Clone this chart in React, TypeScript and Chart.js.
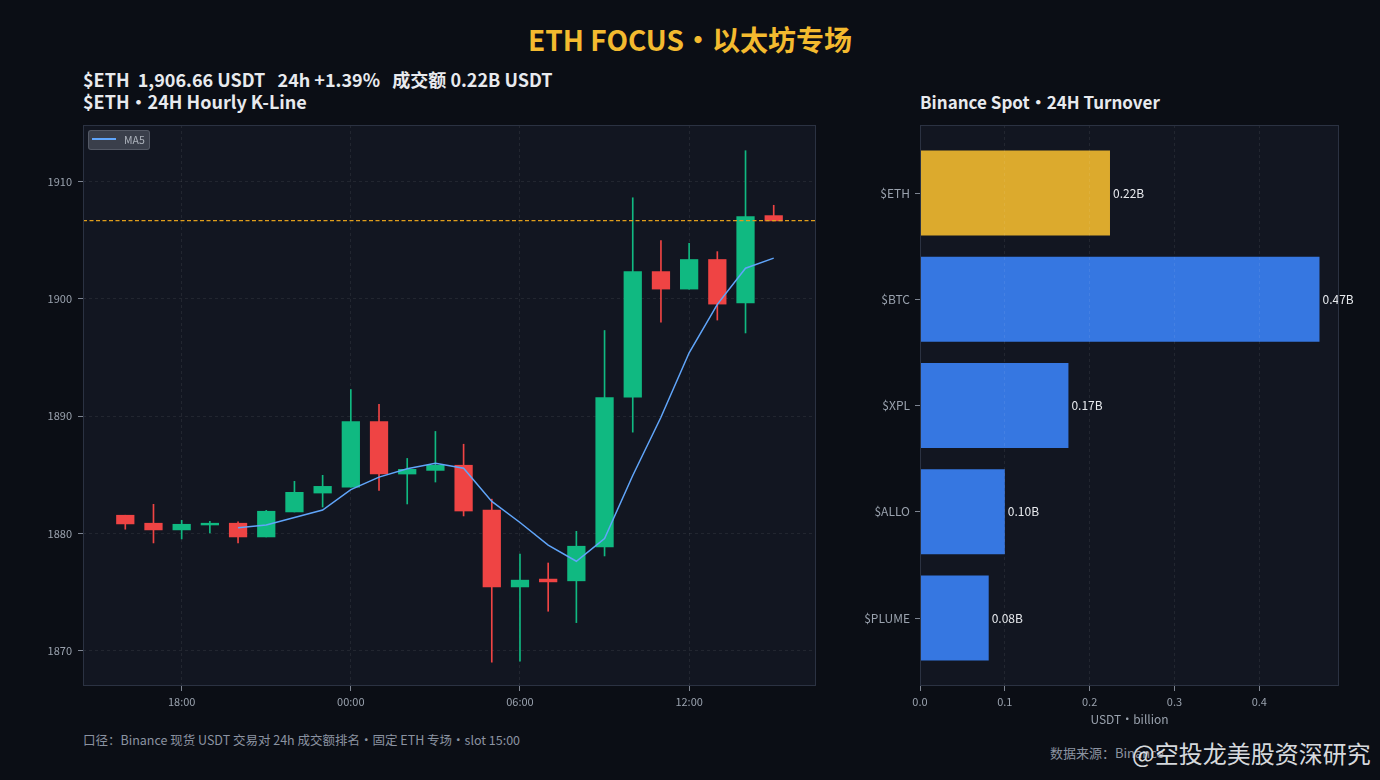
import React, { useEffect, useRef } from "react";
import { Chart, registerables } from "chart.js";

Chart.register(...registerables);

// ---------------- data ----------------
const TIMES = [
  "16:00", "17:00", "18:00", "19:00", "20:00", "21:00", "22:00", "23:00",
  "00:00", "01:00", "02:00", "03:00", "04:00", "05:00", "06:00", "07:00",
  "08:00", "09:00", "10:00", "11:00", "12:00", "13:00", "14:00", "15:00",
];
const OPEN = [
  1881.55, 1880.87, 1880.30, 1880.72, 1880.87, 1879.70, 1881.83, 1883.44,
  1883.95, 1889.54, 1885.06, 1885.37, 1885.81, 1881.98, 1875.44, 1876.11,
  1875.96, 1878.84, 1891.61, 1902.31, 1900.82, 1903.34, 1899.64, 1907.08,
];
const HIGH = [
  1881.55, 1882.48, 1881.12, 1881.04, 1880.98, 1881.97, 1884.44, 1884.95,
  1892.26, 1890.99, 1886.39, 1888.69, 1887.60, 1882.92, 1878.24, 1877.48,
  1880.18, 1897.29, 1908.60, 1904.95, 1904.71, 1904.01, 1912.61, 1907.96,
];
const LOW = [
  1880.36, 1879.19, 1879.53, 1880.04, 1879.19, 1879.70, 1881.83, 1882.25,
  1883.95, 1883.67, 1882.51, 1884.38, 1881.49, 1869.03, 1869.12, 1873.37,
  1872.40, 1878.08, 1888.63, 1897.99, 1900.82, 1898.18, 1897.08, 1906.63,
];
const CLOSE = [
  1880.81, 1880.30, 1880.78, 1880.87, 1879.70, 1881.89, 1883.50, 1884.01,
  1889.54, 1885.06, 1885.46, 1885.80, 1881.91, 1875.44, 1876.02, 1875.87,
  1878.91, 1891.58, 1902.31, 1900.82, 1903.34, 1899.54, 1906.99, 1906.63,
];
const MA5 = [
  null, null, null, null, 1880.49, 1880.71, 1881.35, 1881.99,
  1883.73, 1884.80, 1885.51, 1885.97, 1885.55, 1882.73, 1880.93, 1879.01,
  1877.63, 1879.56, 1884.94, 1889.90, 1895.39, 1899.52, 1902.60, 1903.46,
];
const LAST_PRICE = 1906.66;
const X_TICK_INDEX = [2, 8, 14, 20];
const Y_TICKS = [1870, 1880, 1890, 1900, 1910];
const X_RANGE = [-1.5, 24.5];
const Y_RANGE = [1867.0, 1914.8];

const COINS = ["$ETH", "$BTC", "$XPL", "$ALLO", "$PLUME"];
const TURNOVER = [0.224, 0.471, 0.175, 0.1, 0.081];
const TURNOVER_LABELS = ["0.22B", "0.47B", "0.17B", "0.10B", "0.08B"];
const TURNOVER_TICKS = [0, 0.1, 0.2, 0.3, 0.4];
const TURNOVER_RANGE = [0, 0.494];
const COIN_RANGE = [-0.64, 4.64];

// ---------------- style ----------------
const FONT = "'Noto Sans CJK SC', 'Noto Sans', sans-serif";
const PAGE_BG = "#0b0e15";
const PLOT_BG = "#121621";
const FRAME = "#2b3242";
const TICK_TEXT = "#9aa2ae";
const TICK_MARK = "#7d8491";
const GRID = "rgba(255,255,255,0.07)";
const UP = "#10b981";
const DOWN = "#ef4444";
const MA_COLOR = "#60a5fa";
const PRICE_LINE = "#e09e1c";
const GOLD = "rgba(243,186,47,0.9)";
const BLUE = "rgba(59,130,246,0.9)";
const TEXT = "#e8eaee";

const plotFrame = {
  id: "plotFrame",
  beforeDraw(chart: any) {
    const { ctx, chartArea: a } = chart;
    ctx.save();
    ctx.fillStyle = PLOT_BG;
    ctx.fillRect(a.left, a.top, a.right - a.left, a.bottom - a.top);
    ctx.restore();
  },
  afterDraw(chart: any) {
    const { ctx, chartArea: a } = chart;
    ctx.save();
    ctx.strokeStyle = FRAME;
    ctx.lineWidth = 1;
    ctx.strokeRect(a.left + 0.5, a.top + 0.5, a.right - a.left - 1, a.bottom - a.top - 1);
    ctx.restore();
  },
};

const barLabels = {
  id: "barLabels",
  afterDatasetsDraw(chart: any) {
    const { ctx } = chart;
    const meta = chart.getDatasetMeta(0);
    ctx.save();
    ctx.fillStyle = TEXT;
    ctx.font = `12px ${FONT}`;
    ctx.textAlign = "left";
    ctx.textBaseline = "middle";
    meta.data.forEach((bar: any, i: number) => {
      ctx.fillText(TURNOVER_LABELS[i], bar.x + 3, bar.y);
    });
    ctx.restore();
  },
};

const fixH = (h: number) => (s: any) => {
  s.height = h;
  s.paddingLeft = 0;
  s.paddingRight = 0;
};
const fixW = (w: number) => (s: any) => {
  s.width = w;
  s.paddingTop = 0;
  s.paddingBottom = 0;
};

function KLine() {
  const ref = useRef<HTMLCanvasElement>(null);
  useEffect(() => {
    if (!ref.current) return;
    const colors = OPEN.map((o, i) => (CLOSE[i] >= o ? UP : DOWN));
    const chart = new Chart(ref.current, {
      type: "bar",
      data: {
        datasets: [
          {
            type: "bar",
            label: "wick",
            data: TIMES.map((_, i) => ({ x: i, y: [LOW[i], HIGH[i]] })) as any,
            backgroundColor: colors,
            barThickness: 1,
            grouped: false,
            order: 3,
          } as any,
          {
            type: "bar",
            label: "body",
            data: TIMES.map((_, i) => ({ x: i, y: [OPEN[i], CLOSE[i]] })) as any,
            backgroundColor: colors,
            barThickness: 17.6,
            minBarLength: 1.5,
            grouped: false,
            order: 2,
          } as any,
          {
            type: "line",
            label: "MA5",
            data: TIMES.map((_, i) => ({ x: i, y: MA5[i] })) as any,
            borderColor: MA_COLOR,
            borderWidth: 1.5,
            pointRadius: 0,
            spanGaps: false,
            order: 1,
          } as any,
          {
            type: "line",
            label: "last",
            data: X_RANGE.map((x) => ({ x, y: LAST_PRICE })) as any,
            borderColor: PRICE_LINE,
            backgroundColor: PRICE_LINE,
            borderWidth: 1.2,
            borderDash: [4, 2.5],
            pointRadius: 0,
            fill: false,
            order: 0,
          } as any,
        ],
      },
      options: {
        animation: false,
        responsive: true,
        maintainAspectRatio: false,
        layout: { padding: { top: 10, right: 14, left: 0, bottom: 0 } },
        plugins: { legend: { display: false }, tooltip: { enabled: false } },
        scales: {
          x: {
            type: "linear",
            offset: false,
            min: X_RANGE[0],
            max: X_RANGE[1],
            afterBuildTicks: (s: any) => {
              s.ticks = X_TICK_INDEX.map((v) => ({ value: v }));
            },
            afterFit: fixH(39),
            ticks: {
              callback: (v: any) => TIMES[v as number],
              color: TICK_TEXT,
              font: { size: 11, family: FONT },
              padding: 4,
              maxRotation: 0,
              autoSkip: false,
            },
            grid: { offset: false, color: GRID, tickColor: TICK_MARK, tickLength: 5, tickBorderDash: [] },
            border: { display: false, dash: [3, 3] },
          } as any,
          y: {
            type: "linear",
            min: Y_RANGE[0],
            max: Y_RANGE[1],
            afterBuildTicks: (s: any) => {
              s.ticks = Y_TICKS.map((v) => ({ value: v }));
            },
            afterFit: fixW(63),
            ticks: {
              callback: (v: any) => String(v),
              color: TICK_TEXT,
              font: { size: 11, family: FONT },
              padding: 6,
            },
            grid: { color: GRID, tickColor: TICK_MARK, tickLength: 5, tickBorderDash: [] },
            border: { display: false, dash: [3, 3] },
          } as any,
        },
      },
      plugins: [plotFrame],
    });
    return () => chart.destroy();
  }, []);
  return <canvas ref={ref} />;
}

function Turnover() {
  const ref = useRef<HTMLCanvasElement>(null);
  useEffect(() => {
    if (!ref.current) return;
    const chart = new Chart(ref.current, {
      type: "bar",
      data: {
        datasets: [
          {
            label: "turnover",
            data: TURNOVER.map((v, i) => ({ x: v, y: i })) as any,
            backgroundColor: COINS.map((_, i) => (i === 0 ? GOLD : BLUE)),
            categoryPercentage: 1,
            barPercentage: 0.8,
          } as any,
        ],
      },
      options: {
        indexAxis: "y",
        animation: false,
        responsive: true,
        maintainAspectRatio: false,
        layout: { padding: { top: 10, right: 21, left: 0, bottom: 0 } },
        plugins: { legend: { display: false }, tooltip: { enabled: false } },
        scales: {
          x: {
            type: "linear",
            offset: false,
            min: TURNOVER_RANGE[0],
            max: TURNOVER_RANGE[1],
            afterBuildTicks: (s: any) => {
              s.ticks = TURNOVER_TICKS.map((v) => ({ value: v }));
            },
            afterFit: fixH(45),
            ticks: {
              callback: (v: any) => Number(v).toFixed(1),
              color: TICK_TEXT,
              font: { size: 11, family: FONT },
              padding: 4,
              maxRotation: 0,
              autoSkip: false,
            },
            title: {
              display: true,
              text: "USDT・billion",
              color: TICK_TEXT,
              font: { size: 12, family: FONT },
              padding: { top: 2, bottom: 4 },
            },
            grid: { offset: false, color: GRID, tickColor: TICK_MARK, tickLength: 5, tickBorderDash: [], z: 1 },
            border: { display: false, dash: [3, 3] },
          } as any,
          y: {
            type: "linear",
            offset: false,
            reverse: true,
            min: COIN_RANGE[0],
            max: COIN_RANGE[1],
            afterBuildTicks: (s: any) => {
              s.ticks = COINS.map((_, i) => ({ value: i }));
            },
            afterFit: fixW(70),
            ticks: {
              callback: (v: any) => COINS[v as number],
              color: TICK_TEXT,
              font: { size: 12, family: FONT },
              padding: 5,
            },
            grid: {
              offset: false,
              drawOnChartArea: false,
              color: GRID,
              tickColor: TICK_MARK,
              tickLength: 5,
              tickBorderDash: [],
            },
            border: { display: false },
          } as any,
        },
      },
      plugins: [plotFrame, barLabels],
    });
    return () => chart.destroy();
  }, []);
  return <canvas ref={ref} />;
}

function Label(props: {
  x: number;
  cy: number;
  size: number;
  color: string;
  bold?: boolean;
  center?: boolean;
  children: React.ReactNode;
}) {
  const h = Math.round(props.size * 1.4);
  return (
    <div
      style={{
        position: "absolute",
        left: props.center ? 0 : props.x,
        width: props.center ? 1380 : undefined,
        textAlign: props.center ? "center" : "left",
        top: props.cy - h / 2,
        height: h,
        lineHeight: `${h}px`,
        fontSize: props.size,
        fontWeight: props.bold ? 700 : 400,
        color: props.color,
        fontFamily: FONT,
        whiteSpace: "pre",
      }}
    >
      {props.children}
    </div>
  );
}

export default function App() {
  useEffect(() => {
    document.body.style.margin = "0";
    document.body.style.background = PAGE_BG;
  }, []);
  return (
    <div
      style={{
        position: "absolute",
        left: 0,
        top: 0,
        width: 1380,
        height: 780,
        background: PAGE_BG,
        overflow: "hidden",
        fontFamily: FONT,
      }}
    >
      <Label x={0} cy={39} size={28} color="#f3ba2f" bold center>
        ETH FOCUS・以太坊专场
      </Label>
      <Label x={83} cy={79} size={18} color={TEXT} bold>
        {"$ETH  1,906.66 USDT   24h +1.39%   成交额 0.22B USDT"}
      </Label>
      <Label x={83} cy={101} size={18} color={TEXT} bold>
        $ETH・24H Hourly K-Line
      </Label>
      <Label x={920} cy={102} size={17} color={TEXT} bold>
        Binance Spot・24H Turnover
      </Label>

      <div style={{ position: "absolute", left: 20, top: 115, width: 810, height: 610 }}>
        <KLine />
      </div>
      <div style={{ position: "absolute", left: 850, top: 115, width: 510, height: 616 }}>
        <Turnover />
      </div>

      <div
        style={{
          position: "absolute",
          left: 88,
          top: 130,
          width: 62,
          height: 20,
          boxSizing: "border-box",
          background: "rgba(72,78,90,0.75)",
          border: "1px solid rgba(110,116,128,0.5)",
          borderRadius: 3,
        }}
      >
        <div style={{ position: "absolute", left: 3, top: 7, width: 24, height: 2, background: MA_COLOR }} />
        <div
          style={{
            position: "absolute",
            left: 35,
            top: 0,
            height: 18,
            lineHeight: "18px",
            fontSize: 10.5,
            color: "#aeb4bd",
            fontFamily: FONT,
          }}
        >
          MA5
        </div>
      </div>

      <Label x={83} cy={740} size={12.5} color="#8b93a1">
        口径：Binance 现货 USDT 交易对 24h 成交额排名・固定 ETH 专场・slot 15:00
      </Label>
      <Label x={1050} cy={753} size={13} color="#8b93a1">
        数据来源：Binance
      </Label>
      <Label x={1132} cy={753} size={24} color="rgba(236,238,242,0.92)">
        @空投龙美股资深研究
      </Label>
    </div>
  );
}
